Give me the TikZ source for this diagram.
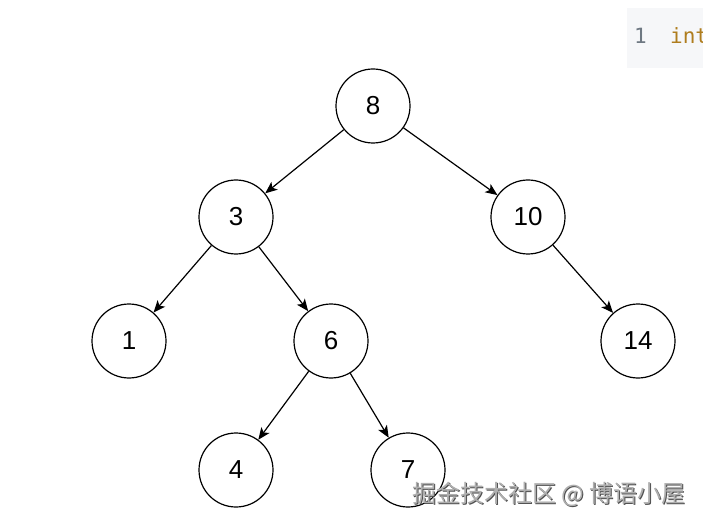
\documentclass[tikz,border=0pt]{standalone}
\usepackage{fontspec}
\setmainfont{Liberation Sans}
\setmonofont{DejaVu Sans Mono}
\newfontfamily\cjk{Noto Sans CJK SC}
\usetikzlibrary{arrows.meta}
\begin{document}
\begin{tikzpicture}[x=1pt,y=-1pt,
  tnode/.style={circle,draw=black,line width=1.2pt,minimum size=74pt,inner sep=0pt,font=\fontsize{26}{26}\selectfont},
  tedge/.style={line width=1.2pt,-{Stealth[length=12pt,width=10pt,inset=3pt]}}]
\useasboundingbox (0,0) rectangle (703,526);
\fill[white] (0,0) rectangle (703,526);
% code snippet
\node[fill={rgb,255:red,246;green,247;blue,249},minimum width=76pt,minimum height=60pt,inner sep=0pt,anchor=north west] (code) at (627,8) {};
\node[anchor=west,inner sep=0pt,font=\ttfamily\fontsize{21}{21}\selectfont,text={rgb,255:red,110;green,120;blue,130}] (ln) at (634,36) {1};
\node[anchor=west,inner sep=0pt,font=\ttfamily\fontsize{21}{21}\selectfont,text={rgb,255:red,175;green,125;blue,30}] (kw) at (670,36) {int};
\fill[white] (703,0) rectangle (720,526);
% tree
\node[tnode] (n8) at (373,106) {8};
\node[tnode] (n3) at (236,217) {3};
\node[tnode] (n10) at (528,217) {10};
\node[tnode] (n1) at (129,341) {1};
\node[tnode] (n6) at (331,341) {6};
\node[tnode] (n14) at (638,341) {14};
\node[tnode] (n4) at (236,470) {4};
\node[tnode] (n7) at (408,470) {7};
\draw[tedge] (n8) -- (n3);
\draw[tedge] (n8) -- (n10);
\draw[tedge] (n3) -- (n1);
\draw[tedge] (n3) -- (n6);
\draw[tedge] (n10) -- (n14);
\draw[tedge] (n6) -- (n4);
\draw[tedge] (n6) -- (n7);
% watermark
\node[anchor=east,inner sep=0pt,font=\cjk\fontsize{24}{24}\selectfont,text={rgb,255:red,80;green,80;blue,80}] (wms) at (687,495) {掘金技术社区 @ 博语小屋};
\node[anchor=east,inner sep=0pt,font=\cjk\fontsize{24}{24}\selectfont,text={rgb,255:red,175;green,175;blue,175}] (wm) at (686,494) {掘金技术社区 @ 博语小屋};
\end{tikzpicture}
\end{document}
